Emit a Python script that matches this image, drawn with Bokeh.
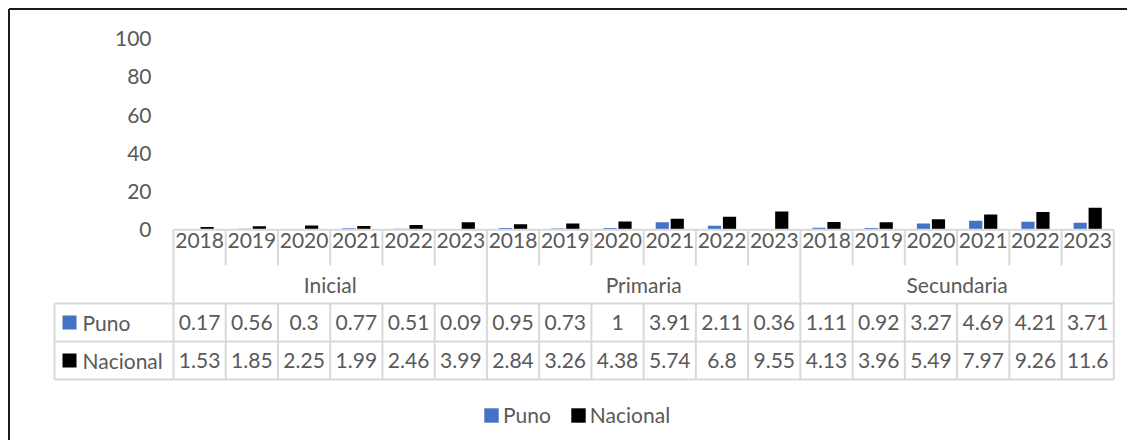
from bokeh.plotting import figure
from bokeh.models import Range1d, Legend, LegendItem
from bokeh.core.properties import value
from bokeh.embed import file_html
from bokeh.resources import INLINE

# ---------------- data ----------------
groups = ["Inicial", "Primaria", "Secundaria"]
years = ["2018", "2019", "2020", "2021", "2022", "2023"]
puno = [0.17, 0.56, 0.3, 0.77, 0.51, 0.09,
        0.95, 0.73, 1, 3.91, 2.11, 0.36,
        1.11, 0.92, 3.27, 4.69, 4.21, 3.71]
nacional = [1.53, 1.85, 2.25, 1.99, 2.46, 3.99,
            2.84, 3.26, 4.38, 5.74, 6.8, 9.55,
            4.13, 3.96, 5.49, 7.97, 9.26, 11.6]
y_ticks = [0, 20, 40, 60, 80, 100]
series_names = ["Puno", "Nacional"]
series_colors = ["#4472C4", "#000000"]

# ---------------- layout helpers (canvas pixels -> data) ----------------
W, H = 1127, 440
TX0, TX1 = 173.0, 1113.3
N = len(groups) * len(years)
CW = (TX1 - TX0) / N
Y0PX, Y100PX = 229.3, 38.2
PPU = (Y0PX - Y100PX) / 100.0


def X(px):
    return (px - TX0) / CW


def Y(py):
    return (Y0PX - py) / PPU


FONT = "Lato"
FS = "21px"
TXT = "#595959"
GRID = "#D9D9D9"

p = figure(width=W, height=H, output_backend="svg", toolbar_location=None,
           x_range=Range1d(X(0), X(W)),
           y_range=Range1d(Y(H), Y(0)),
           x_axis_location=None, y_axis_location=None,
           min_border=0, min_border_left=0, min_border_right=0,
           min_border_top=0, min_border_bottom=0)
p.grid.visible = False
p.outline_line_color = None
p.background_fill_color = "white"
p.border_fill_color = "white"

# outer chart border (left and top visible)
p.segment(x0=[X(8.5), X(8.5)], y0=[Y(8.5), Y(8.5)],
          x1=[X(8.5), X(W + 5)], y1=[Y(H + 5), Y(8.5)],
          line_color="#1a1a1a", line_width=2)

# ---------------- bars ----------------
xc = [i + 0.5 for i in range(N)]
off = 7.5 / CW
bw = 13.2 / CW
r_puno = p.vbar(x=[v - off for v in xc], top=puno, bottom=0, width=bw,
                fill_color=series_colors[0], line_color=None)
r_nac = p.vbar(x=[v + off for v in xc], top=nacional, bottom=0, width=bw,
               fill_color=series_colors[1], line_color=None)

# ---------------- y tick labels ----------------
p.text(x=[X(151)] * len(y_ticks), y=y_ticks, text=[str(t) for t in y_ticks],
       text_font=value(FONT), text_font_size=FS, text_color=TXT,
       text_align="right", text_baseline="middle")

# ---------------- data table grid ----------------
R0, R1, R2, R3, R4 = Y0PX, 265.0, 303.0, 341.0, 379.0
LX = 54.0
x0s, y0s, x1s, y1s = [], [], [], []
for (a, b, yy) in [(TX0, TX1, R0), (LX, TX1, R2), (LX, TX1, R3), (LX, TX1, R4)]:
    x0s.append(X(a)); x1s.append(X(b)); y0s.append(Y(yy)); y1s.append(Y(yy))
for g in range(len(groups) + 1):
    gx = g * len(years)
    x0s.append(gx); x1s.append(gx); y0s.append(Y(R0)); y1s.append(Y(R4))
for i in range(1, N):
    if i % len(years) == 0:
        continue
    x0s.append(i); x1s.append(i); y0s.append(Y(R0)); y1s.append(Y(R1))
    x0s.append(i); x1s.append(i); y0s.append(Y(R2)); y1s.append(Y(R4))
x0s.append(X(LX)); x1s.append(X(LX)); y0s.append(Y(R2)); y1s.append(Y(R4))
p.segment(x0=x0s, y0=y0s, x1=x1s, y1=y1s, line_color=GRID, line_width=2)

# year labels
year_labels = years * len(groups)
p.text(x=xc, y=[Y(240)] * N, text=year_labels,
       text_font=value(FONT), text_font_size=FS, text_color=TXT,
       text_align="center", text_baseline="middle")
# group labels
p.text(x=[(g + 0.5) * len(years) for g in range(len(groups))],
       y=[Y(284)] * len(groups), text=groups,
       text_font=value(FONT), text_font_size=FS, text_color=TXT,
       text_align="center", text_baseline="middle")
# values
row_y = [322.0, 360.0]
for vals, ry in zip([puno, nacional], row_y):
    p.text(x=xc, y=[Y(ry)] * N, text=[f"{v:g}" for v in vals],
           text_font=value(FONT), text_font_size=FS, text_color=TXT,
           text_align="center", text_baseline="middle")
# left column legend keys
p.rect(x=[X(69), X(69)], y=[Y(r) for r in row_y], width=14, height=14,
       width_units="screen", height_units="screen",
       fill_color=series_colors, line_color=None)
p.text(x=[X(82), X(82)], y=[Y(r) for r in row_y], text=series_names,
       text_font=value(FONT), text_font_size=FS, text_color=TXT,
       text_align="left", text_baseline="middle")

# ---------------- legend ----------------
legend = Legend(items=[LegendItem(label=series_names[0], renderers=[r_puno]),
                       LegendItem(label=series_names[1], renderers=[r_nac])],
                orientation="horizontal", location=(482, 13),
                glyph_width=18, glyph_height=18, label_standoff=3, spacing=18,
                padding=0, margin=0, border_line_color=None,
                background_fill_alpha=0,
                label_text_font=FONT, label_text_font_size=FS,
                label_text_color=TXT)
p.add_layout(legend)

open("out.html", "w").write(file_html(p, INLINE))
